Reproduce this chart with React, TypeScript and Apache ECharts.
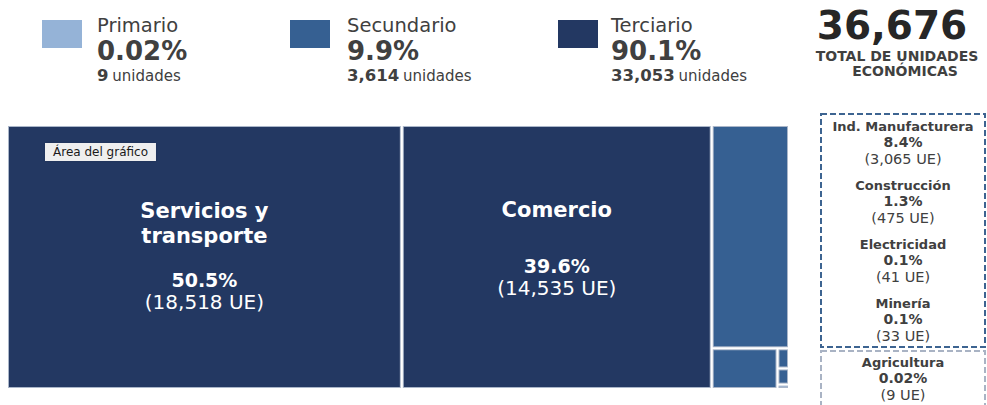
import React, { useEffect, useRef } from 'react';
import * as echarts from 'echarts';

// ---- data ----
const sectorNames = ['Servicios y transporte', 'Comercio', 'Ind. Manufacturera', 'Construcción', 'Electricidad', 'Minería', 'Agricultura'];
const sectorUnits = [18518, 14535, 3065, 475, 41, 33, 9];
const sectorPercents = ['50.5%', '39.6%', '8.4%', '1.3%', '0.1%', '0.1%', '0.02%'];
const sectorGroup = ['Terciario', 'Terciario', 'Secundario', 'Secundario', 'Secundario', 'Secundario', 'Primario'];
const groupNames = ['Primario', 'Secundario', 'Terciario'];
const groupPercents = ['0.02%', '9.9%', '90.1%'];
const groupUnits = [9, 3614, 33053];
const totalUnits = 36676;
const totalLabel = ['TOTAL DE UNIDADES', 'ECONÓMICAS'];
const unitWord = 'unidades';
const ueWord = 'UE';
const chartAreaTag = 'Área del gráfico';

// ---- styles ----
const FONT = '"DejaVu Sans", "Liberation Sans", Arial, sans-serif';
const TEXT = '#404040';
const groupColors: Record<string, string> = {
  Primario: '#95b3d7',
  Secundario: '#366092',
  Terciario: '#233862',
};

const fmt = (n: number) => n.toLocaleString('en-US');

function wrapName(name: string): string[] {
  if (name.length <= 14) return [name];
  const cut = name.lastIndexOf(' ');
  return [name.slice(0, cut), name.slice(cut + 1)];
}

export default function App() {
  const ref = useRef<HTMLDivElement>(null);

  useEffect(() => {
    document.body.style.margin = '0';
    if (!ref.current) return;
    const chart = echarts.init(ref.current, undefined, { renderer: 'svg' });

    const treeData = sectorNames.map((name, i) => {
      const showLabel = sectorGroup[i] === 'Terciario';
      const lines = wrapName(name);
      const gapTag = lines.length > 1 ? 'g1' : 'g2';
      const formatter =
        lines.map((l) => `{n|${l}}`).join('\n') +
        `\n{${gapTag}| }\n{p|${sectorPercents[i]}}\n{u|(${fmt(sectorUnits[i])} ${ueWord})}`;
      return {
        name,
        value: sectorUnits[i],
        itemStyle: { color: groupColors[sectorGroup[i]] },
        label: showLabel
          ? {
              show: true,
              position: 'inside',
              formatter,
              padding: lines.length > 1 ? [72, 0, 0, 0] : [71, 0, 0, 0],
              color: '#ffffff',
              rich: {
                n: { fontSize: 21, fontWeight: 'bold', lineHeight: 24.5, color: '#fff', fontFamily: FONT },
                g1: { fontSize: 10, lineHeight: 20.5, color: '#fff', fontFamily: FONT },
                g2: { fontSize: 10, lineHeight: 32, color: '#fff', fontFamily: FONT },
                p: { fontSize: 19, fontWeight: 'bold', lineHeight: 22, color: '#fff', fontFamily: FONT },
                u: { fontSize: 20, lineHeight: 22, color: '#fff', fontFamily: FONT },
              },
            }
          : { show: false },
      };
    });

    const graphics: any[] = [];

    // Header legend groups
    const sqX = [42, 290, 558];
    const txX = [97, 347, 611];
    const nameY = 25;
    const pctY = 50.5;
    const unitsY = 74.5;
    groupNames.forEach((g, i) => {
      graphics.push({
        type: 'rect',
        shape: { x: sqX[i], y: 20, width: 40, height: 28 },
        style: { fill: groupColors[g] },
      });
      graphics.push({
        type: 'text',
        x: txX[i],
        y: nameY,
        style: {
          text: g, fill: TEXT, fontSize: 19.5, fontFamily: FONT,
          align: 'left', verticalAlign: 'middle', textAlign: 'left', textVerticalAlign: 'middle',
        },
      });
      graphics.push({
        type: 'text',
        x: txX[i],
        y: pctY,
        style: {
          text: groupPercents[i], fill: TEXT, fontSize: 26, fontWeight: 'bold', fontFamily: FONT,
          align: 'left', verticalAlign: 'middle', textAlign: 'left', textVerticalAlign: 'middle',
        },
      });
      graphics.push({
        type: 'text',
        x: txX[i],
        y: unitsY,
        style: {
          text: `{b|${fmt(groupUnits[i])}} {n|${unitWord}}`,
          fill: TEXT,
          fontFamily: FONT,
          align: 'left', verticalAlign: 'middle', textAlign: 'left', textVerticalAlign: 'middle',
          rich: {
            b: { fontSize: 16.5, fontWeight: 'bold', fill: TEXT, fontFamily: FONT, lineHeight: 18, verticalAlign: 'bottom' },
            n: { fontSize: 15, fill: TEXT, fontFamily: FONT, lineHeight: 17, verticalAlign: 'bottom' },
          },
        },
      });
    });

    // Total
    graphics.push({
      type: 'text',
      x: 892,
      y: 25,
      style: {
        text: fmt(totalUnits), fill: '#262626', fontSize: 39, fontWeight: 'bold', fontFamily: FONT,
        align: 'center', verticalAlign: 'middle', textAlign: 'center', textVerticalAlign: 'middle',
      },
    });
    const totalX = [897, 905];
    const totalY = [55.5, 71];
    totalLabel.forEach((t, i) => {
      graphics.push({
        type: 'text',
        x: totalX[i],
        y: totalY[i],
        style: {
          text: t, fill: TEXT, fontSize: 14, fontWeight: 'bold', fontFamily: FONT,
          align: 'center', verticalAlign: 'middle', textAlign: 'center', textVerticalAlign: 'middle',
        },
      });
    });

    // Side boxes
    graphics.push({
      type: 'rect',
      shape: { x: 821, y: 114, width: 164, height: 233 },
      style: { fill: 'none', stroke: '#3d6491', lineWidth: 2, lineDash: [6, 3] },
    });
    graphics.push({
      type: 'rect',
      shape: { x: 821, y: 351, width: 164, height: 80 },
      style: { fill: 'none', stroke: '#a9b3c4', lineWidth: 2, lineDash: [6, 3] },
    });

    let k = 0;
    sectorNames.forEach((name, i) => {
      if (sectorGroup[i] === 'Terciario') return;
      const baseY = 126 + k * 59;
      k++;
      graphics.push({
        type: 'text',
        x: 903,
        y: baseY - 8,
        style: {
          text: `{n|${name}}\n{p|${sectorPercents[i]}}\n{u|(${fmt(sectorUnits[i])} ${ueWord})}`,
          fill: TEXT,
          fontFamily: FONT,
          align: 'center', verticalAlign: 'top', textAlign: 'center', textVerticalAlign: 'top',
          rich: {
            n: { fontSize: 13, fontWeight: 'bold', lineHeight: 16, fill: TEXT, fontFamily: FONT },
            p: { fontSize: 14, fontWeight: 'bold', lineHeight: 16, fill: TEXT, fontFamily: FONT },
            u: { fontSize: 14.5, lineHeight: 18, fill: TEXT, fontFamily: FONT },
          },
        },
      });
    });

    // Chart-area tag
    graphics.push({
      type: 'text',
      x: 45,
      y: 143,
      z: 100,
      style: {
        text: chartAreaTag, fill: '#1a1a1a', fontSize: 12, fontFamily: FONT,
        align: 'left', verticalAlign: 'top', textAlign: 'left', textVerticalAlign: 'top',
        backgroundColor: '#efefef', padding: [2, 8, 2, 8], lineHeight: 14,
        shadowBlur: 3, shadowColor: 'rgba(0,0,0,0.15)',
      },
    });

    chart.setOption({
      animation: false,
      series: [
        {
          type: 'treemap',
          left: 8,
          top: 126,
          width: 780,
          height: 262,
          roam: false,
          nodeClick: false,
          breadcrumb: { show: false },
          label: { show: false },
          upperLabel: { show: false },
          emphasis: { disabled: true },
          levels: [
            { itemStyle: { borderWidth: 0, gapWidth: 2, borderColor: '#ffffff' } },
            { itemStyle: { borderWidth: 1, borderColor: '#aab6c9', gapWidth: 0 } },
          ],
          data: treeData,
        },
      ],
      graphic: graphics,
    });

    return () => {
      chart.dispose();
    };
  }, []);

  return <div ref={ref} style={{ width: 987, height: 405 }} />;
}
